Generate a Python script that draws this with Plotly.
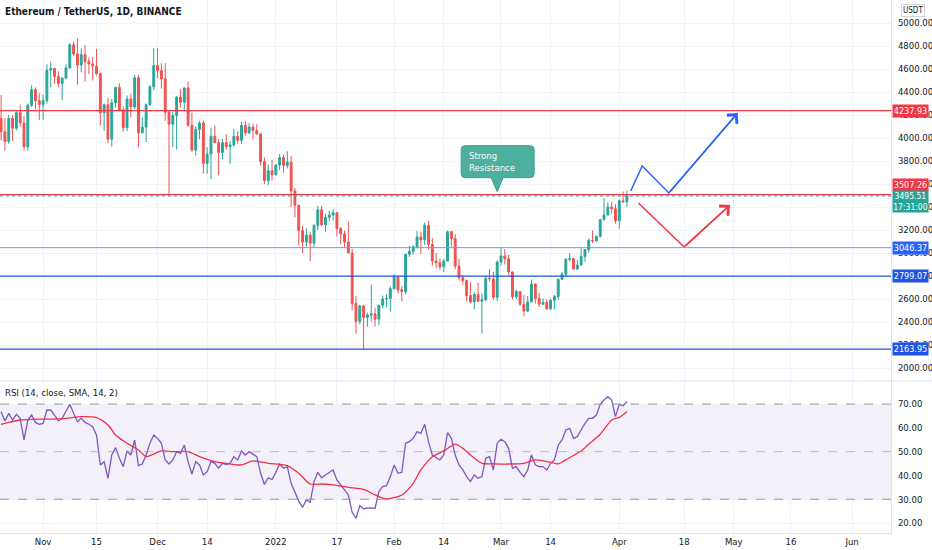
import pandas as pd
import plotly.graph_objects as go

# daily candles, 2021-10-21 .. 2022-04-03
dates = pd.date_range("2021-10-21", periods=165, freq="D")

opens = [4170, 4055, 3970, 4170, 4085, 4220, 4130, 3925, 4285, 4420,
         4325, 4290, 4325, 4590, 4605, 4535, 4475, 4520, 4610, 4810,
         4730, 4635, 4725, 4665, 4645, 4625, 4560, 4220, 4290, 3990,
         4305, 4440, 4245, 4090, 4340, 4270, 4525, 4045, 4095, 4290,
         4445, 4630, 4585, 4515, 4225, 4120, 4195, 4355, 4310, 4435,
         4110, 3895, 4075, 4130, 3780, 3860, 4015, 3960, 3875, 3960,
         3925, 3940, 4015, 3980, 4110, 4045, 4095, 4065, 4035, 3795,
         3630, 3715, 3680, 3765, 3830, 3760, 3790, 3540, 3415, 3195,
         3095, 3155, 3085, 3240, 3375, 3245, 3310, 3330, 3350, 3212,
         3165, 3095, 3000, 2560, 2405, 2540, 2440, 2460, 2470, 2425,
         2545, 2600, 2605, 2690, 2790, 2680, 2665, 2990, 3015, 3055,
         3140, 3115, 3240, 3075, 2930, 2915, 2880, 2930, 3185, 3125,
         2885, 2785, 2760, 2630, 2575, 2640, 2580, 2595, 2780, 2775,
         2615, 2920, 2975, 2950, 2835, 2620, 2665, 2555, 2495, 2575,
         2730, 2605, 2555, 2570, 2515, 2590, 2620, 2770, 2815, 2945,
         2950, 2860, 2895, 2970, 3030, 3110, 3105, 3145, 3290, 3330,
         3400, 3385, 3280, 3455, 3445]

highs = [4375, 4170, 4200, 4200, 4240, 4290, 4190, 4300, 4460, 4440,
         4390, 4380, 4640, 4665, 4610, 4580, 4530, 4640, 4825, 4840,
         4868, 4780, 4810, 4700, 4705, 4775, 4570, 4300, 4345, 4340,
         4440, 4475, 4275, 4370, 4385, 4550, 4550, 4180, 4300, 4460,
         4780, 4780, 4650, 4650, 4240, 4230, 4365, 4425, 4440, 4490,
         4220, 4100, 4150, 4150, 3920, 4090, 4110, 3990, 3990, 4030,
         3975, 4080, 4060, 4140, 4150, 4130, 4125, 4120, 4040, 3830,
         3770, 3810, 3770, 3860, 3855, 3885, 3845, 3565, 3420, 3235,
         3215, 3185, 3250, 3410, 3410, 3340, 3365, 3380, 3360, 3225,
         3195, 3275, 3035, 2625, 2550, 2550, 2480, 2725, 2520, 2550,
         2630, 2640, 2710, 2815, 2805, 2710, 2990, 3060, 3065, 3190,
         3185, 3265, 3280, 3130, 3000, 2950, 2950, 3195, 3190, 3165,
         2950, 2810, 2770, 2745, 2660, 2740, 2650, 2800, 2860, 2835,
         2935, 3050, 3035, 2985, 2840, 2680, 2665, 2635, 2625, 2770,
         2735, 2655, 2605, 2595, 2600, 2635, 2780, 2835, 2955, 3000,
         2960, 2940, 3040, 3030, 3125, 3195, 3150, 3295, 3480, 3440,
         3445, 3425, 3465, 3535, 3545]

lows = [3980, 3890, 3950, 3975, 4065, 4100, 3890, 3890, 4270, 4250,
        4155, 4160, 4300, 4440, 4470, 4440, 4330, 4515, 4600, 4710,
        4465, 4570, 4490, 4555, 4500, 4545, 4110, 4060, 3955, 3925,
        4265, 4235, 4055, 4060, 4180, 4250, 3920, 4040, 3965, 4280,
        4415, 4520, 4430, 4150, 3500, 3920, 3900, 4265, 4230, 4100,
        3880, 3850, 3990, 3690, 3690, 3640, 3955, 3675, 3815, 3900,
        3775, 3925, 3950, 3950, 4020, 4035, 3990, 4030, 3760, 3600,
        3590, 3630, 3675, 3720, 3700, 3735, 3400, 3310, 3065, 3000,
        3055, 2930, 3050, 3200, 3235, 3185, 3280, 3285, 3145, 3075,
        3050, 3000, 2500, 2300, 2380, 2160, 2360, 2405, 2360, 2370,
        2520, 2530, 2490, 2680, 2650, 2580, 2640, 2965, 2985, 3040,
        2990, 3070, 3030, 2890, 2870, 2855, 2835, 2930, 3055, 2860,
        2760, 2725, 2580, 2560, 2510, 2580, 2300, 2580, 2755, 2590,
        2580, 2890, 2900, 2805, 2595, 2600, 2540, 2450, 2485, 2575,
        2560, 2530, 2550, 2505, 2505, 2510, 2590, 2770, 2790, 2925,
        2860, 2855, 2895, 2925, 3005, 3085, 3100, 3135, 3285, 3330,
        3345, 3255, 3210, 3440, 3400]

closes = [4055, 3970, 4170, 4085, 4220, 4130, 3925, 4285, 4420, 4325,
          4290, 4325, 4590, 4605, 4535, 4475, 4520, 4610, 4810, 4730,
          4635, 4725, 4665, 4645, 4625, 4560, 4220, 4290, 3990, 4305,
          4440, 4245, 4090, 4340, 4270, 4525, 4045, 4095, 4290, 4445,
          4630, 4585, 4515, 4225, 4120, 4195, 4355, 4310, 4435, 4110,
          3895, 4075, 4130, 3780, 3860, 4015, 3960, 3875, 3960, 3925,
          3940, 4015, 3980, 4110, 4045, 4095, 4065, 4035, 3795, 3630,
          3715, 3680, 3765, 3830, 3760, 3790, 3540, 3415, 3195, 3095,
          3155, 3085, 3240, 3375, 3245, 3310, 3330, 3350, 3212, 3165,
          3095, 3000, 2560, 2405, 2540, 2440, 2460, 2470, 2425, 2545,
          2600, 2605, 2690, 2790, 2680, 2665, 2990, 3015, 3055, 3140,
          3115, 3240, 3075, 2930, 2915, 2880, 2930, 3185, 3125, 2885,
          2785, 2760, 2630, 2575, 2640, 2580, 2595, 2780, 2775, 2615,
          2920, 2975, 2950, 2835, 2620, 2665, 2555, 2495, 2575, 2730,
          2605, 2555, 2570, 2515, 2590, 2620, 2770, 2815, 2945, 2950,
          2860, 2895, 2970, 3030, 3110, 3105, 3145, 3290, 3330, 3400,
          3385, 3280, 3455, 3445, 3495.51]

rsi = [66.8, 62.9, 66.1, 63.3, 65.7, 64.0, 54.9, 63.3, 65.4, 62.3,
       61.5, 61.9, 67.5, 67.5, 65.4, 62.9, 64.0, 66.8, 69.9, 66.1,
       62.6, 64.0, 62.3, 61.5, 60.5, 57.0, 44.4, 45.8, 38.8, 48.6,
       51.7, 47.2, 43.7, 50.3, 48.6, 54.9, 44.1, 44.8, 48.6, 53.5,
       57.0, 55.6, 53.5, 46.5, 44.8, 46.5, 50.0, 49.3, 52.8, 45.8,
       40.6, 45.8, 44.4, 40.2, 41.6, 45.8, 45.1, 43.0, 45.1, 44.6,
       45.1, 47.9, 46.5, 50.3, 48.6, 50.0, 48.9, 47.9, 40.9, 36.2,
       39.0, 38.3, 41.3, 44.8, 43.0, 43.7, 36.7, 33.2, 29.2, 26.6,
       29.7, 28.7, 37.4, 41.3, 39.0, 40.2, 41.3, 42.3, 38.1, 36.0,
       33.9, 31.8, 24.5, 22.0, 27.3, 25.9, 26.4, 26.4, 26.2, 33.2,
       35.3, 35.7, 39.5, 44.4, 40.9, 41.3, 53.5, 54.2, 55.6, 58.4,
       57.7, 61.5, 54.2, 48.6, 47.5, 46.5, 48.6, 58.0, 55.6, 48.6,
       44.4, 42.3, 39.5, 37.4, 40.2, 38.8, 39.5, 47.2, 47.9, 42.3,
       53.5, 55.2, 54.2, 51.4, 43.0, 43.7, 41.3, 39.5, 42.3, 48.6,
       44.4, 43.7, 43.7, 42.3, 45.1, 46.5, 52.8, 54.9, 59.1, 59.8,
       55.6, 56.3, 59.1, 61.9, 64.0, 64.0, 65.4, 69.9, 71.7, 73.1,
       71.7, 64.7, 69.9, 69.3, 71.0]

# RSI-based SMA, read at a coarser step
ma_dates = ["2021-10-21", "2021-10-23", "2021-10-26", "2021-10-29", "2021-11-03",
            "2021-11-07", "2021-11-11", "2021-11-15", "2021-11-18", "2021-11-20",
            "2021-11-23", "2021-11-26", "2021-11-28", "2021-12-02", "2021-12-05",
            "2021-12-09", "2021-12-12", "2021-12-16", "2021-12-19", "2021-12-23",
            "2021-12-26", "2021-12-30", "2022-01-02", "2022-01-04", "2022-01-07",
            "2022-01-10", "2022-01-13", "2022-01-16", "2022-01-20", "2022-01-24",
            "2022-01-27", "2022-01-30", "2022-02-03", "2022-02-06", "2022-02-08",
            "2022-02-11", "2022-02-14", "2022-02-17", "2022-02-19", "2022-02-21",
            "2022-02-24", "2022-02-27", "2022-03-03", "2022-03-07", "2022-03-10",
            "2022-03-14", "2022-03-16", "2022-03-19", "2022-03-22", "2022-03-24",
            "2022-03-27", "2022-03-30", "2022-04-01", "2022-04-03"]
ma_vals = [61.5, 62.3, 63.3, 63.6, 63.7, 64.0, 64.7, 64.3, 61.2, 57.0,
           53.5, 50.7, 47.9, 50.3, 50.0, 50.0, 47.9, 45.8, 45.1, 44.4,
           46.1, 45.1, 44.6, 44.1, 40.9, 36.4, 36.4, 36.0, 35.0, 34.1,
           31.8, 30.1, 31.8, 36.7, 42.3, 47.9, 50.3, 53.2, 51.4, 48.6,
           45.1, 44.9, 44.8, 45.1, 46.5, 45.5, 44.9, 47.5, 50.3, 53.1,
           57.3, 63.3, 64.4, 66.8]

levels = [4237.93, 3507.26, 3046.37, 2799.07, 2163.95]
last_price = 3495.51
countdown = "17:31:00"

# drawn projection paths
up_path_x = ["2022-04-04", "2022-04-07", "2022-04-14", "2022-05-02"]
up_path_y = [3539, 3757, 3522, 4217]
down_path_x = ["2022-04-06", "2022-04-18", "2022-04-30"]
down_path_y = [3435, 3052, 3417]
callout_date = "2022-02-28"

tick_dates = ["2021-11-01", "2021-11-15", "2021-12-01", "2021-12-14", "2022-01-01",
              "2022-01-17", "2022-02-01", "2022-02-14", "2022-03-01", "2022-03-14",
              "2022-04-01", "2022-04-18", "2022-05-01", "2022-05-16", "2022-06-01"]
tick_text = ["Nov", "15", "Dec", "14", "2022", "17", "Feb", "14", "Mar", "14",
             "Apr", "18", "May", "16", "Jun"]
price_ticks = list(range(2000, 5001, 200))
rsi_ticks = [20, 30, 40, 50, 60, 70]

UP = "#26a69a"
DOWN = "#ef5350"
RED = "#f23645"
BLUE = "#2962ff"
GRID = "#f0f3fa"
FONT = "Liberation Sans Narrow, DejaVu Sans Condensed, Liberation Sans, sans-serif"
level_colors = {4237.93: RED, 3507.26: RED, 3046.37: "#6a97f7",
                2799.07: "#1e53e5", 2163.95: "#1e53e5"}
level_widths = {4237.93: 1.4, 3507.26: 1.4, 3046.37: 1, 2799.07: 1.4, 2163.95: 1.4}
SPLIT = 152 / 533

fig = go.Figure()

fig.add_trace(go.Candlestick(
    x=dates, open=opens, high=highs, low=lows, close=closes,
    increasing=dict(line=dict(color=UP, width=1), fillcolor=UP),
    decreasing=dict(line=dict(color=DOWN, width=1), fillcolor=DOWN),
    whiskerwidth=0, hoverinfo="skip", showlegend=False,
    xaxis="x", yaxis="y"))

fig.add_trace(go.Scatter(x=up_path_x, y=up_path_y, mode="lines",
                         line=dict(color=BLUE, width=1.5),
                         hoverinfo="skip", showlegend=False, xaxis="x", yaxis="y"))
fig.add_trace(go.Scatter(x=down_path_x, y=down_path_y, mode="lines",
                         line=dict(color=RED, width=1.5),
                         hoverinfo="skip", showlegend=False, xaxis="x", yaxis="y"))

fig.add_trace(go.Scatter(x=dates, y=rsi, mode="lines",
                         line=dict(color="#7e57c2", width=1.3),
                         hoverinfo="skip", showlegend=False, xaxis="x2", yaxis="y2"))
fig.add_trace(go.Scatter(x=ma_dates, y=ma_vals, mode="lines",
                         line=dict(color="#f0304a", width=1.3, shape="spline", smoothing=0.7),
                         hoverinfo="skip", showlegend=False, xaxis="x2", yaxis="y2"))

shapes = []
for lv in levels:
    shapes.append(dict(type="line", xref="paper", x0=0, x1=1, yref="y", y0=lv, y1=lv,
                       line=dict(color=level_colors[lv], width=level_widths[lv])))
shapes.append(dict(type="line", xref="paper", x0=0, x1=1, yref="y",
                   y0=last_price, y1=last_price,
                   line=dict(color=UP, width=1, dash="dot")))
# RSI band and guide lines
shapes.append(dict(type="rect", xref="paper", x0=0, x1=1, yref="y2", y0=30, y1=70,
                   fillcolor="rgba(126,87,194,0.09)", line=dict(width=0), layer="below"))
for g, op in [(70, 1), (50, 0.6), (30, 1)]:
    shapes.append(dict(type="line", xref="paper", x0=0, x1=1, yref="y2", y0=g, y1=g,
                       opacity=op, line=dict(color="#9598a1", width=1, dash="dash")))
# pane separator
shapes.append(dict(type="line", xref="paper", x0=0, x1=1.05, yref="paper",
                   y0=SPLIT, y1=SPLIT, line=dict(color="#e0e3eb", width=1)))
# callout box with pointer, sized in pixels
shapes.append(dict(type="path", xref="x", yref="y", xsizemode="pixel", ysizemode="pixel",
                   xanchor=callout_date, yanchor=levels[1],
                   path="M0,3 L-6,17 L-32,17 Q-36,17 -36,21 L-36,45 Q-36,49 -32,49 "
                        "L33,49 Q37,49 37,45 L37,21 Q37,17 33,17 L6,17 Z",
                   fillcolor="#4daf9e", line=dict(color="#3f9d8c", width=1)))

annotations = [
    dict(text="Ethereum / TetherUS, 1D, BINANCE", xref="paper", yref="paper",
         x=0, y=1, xanchor="left", yanchor="top", xshift=3, yshift=-4, showarrow=False,
         font=dict(family=FONT, size=10, color="#131722", weight="bold")),
    dict(text="RSI (14, close, SMA, 14, 2)", xref="paper", yref="paper",
         x=0, y=SPLIT, xanchor="left", yanchor="top", xshift=3, yshift=-4, showarrow=False,
         font=dict(family=FONT, size=9.5, color="#131722")),
    dict(text="USDT", xref="paper", yref="paper", x=1, y=1, xanchor="left", yanchor="top",
         xshift=10, yshift=-4, showarrow=False, borderpad=1, bordercolor="#d1d4dc",
         borderwidth=1, font=dict(family=FONT, size=8, color="#131722")),
    dict(text="Strong<br>Resistance", xref="x", yref="y", x=callout_date, y=levels[1],
         xanchor="left", yanchor="middle", xshift=-30, yshift=33, align="left",
         showarrow=False, font=dict(family=FONT, size=9.5, color="white")),
    dict(text="", xref="x", yref="y", axref="x", ayref="y",
         x=up_path_x[-1], y=up_path_y[-1], ax=up_path_x[-2], ay=up_path_y[-2],
         showarrow=True, arrowhead=4, arrowsize=1.7, arrowwidth=1.5, arrowcolor=BLUE),
    dict(text="", xref="x", yref="y", axref="x", ayref="y",
         x=down_path_x[-1], y=down_path_y[-1], ax=down_path_x[-2], ay=down_path_y[-2],
         showarrow=True, arrowhead=4, arrowsize=1.7, arrowwidth=1.5, arrowcolor=RED),
]
shift = {3507.26: 10}
for lv in levels:
    annotations.append(dict(text=f"{lv:.2f}", xref="paper", yref="y", x=1, y=lv,
                            xanchor="left", yanchor="middle", xshift=1, yshift=shift.get(lv, 0),
                            showarrow=False, bgcolor=level_colors[lv] if lv != 3046.37 else BLUE,
                            width=33, borderpad=1,
                            font=dict(family=FONT, size=9, color="white")))
annotations.append(dict(text=f"{last_price:.2f}<br>{countdown}", xref="paper", yref="y",
                        x=1, y=last_price, xanchor="left", yanchor="middle", xshift=1,
                        yshift=-5, showarrow=False, bgcolor=UP, width=35, borderpad=0,
                        font=dict(family=FONT, size=8.5, color="white")))

xcommon = dict(type="date", range=["2021-10-20 17:00", "2022-06-11 05:00"],
               tickvals=tick_dates, ticktext=tick_text, showgrid=True, gridcolor=GRID,
               zeroline=False, rangeslider=dict(visible=False))

fig.update_layout(
    width=932, height=550,
    margin=dict(l=0, r=41, t=0, b=17),
    paper_bgcolor="white", plot_bgcolor="white",
    showlegend=False, hovermode=False,
    font=dict(family=FONT, size=9, color="#131722"),
    xaxis=dict(**xcommon, anchor="y", showticklabels=False),
    xaxis2=dict(**xcommon, anchor="y2", matches="x", showline=True, linecolor="#e0e3eb",
                tickfont=dict(family=FONT, size=9.5, color="#131722")),
    yaxis=dict(domain=[SPLIT, 1], range=[1887, 5200], side="right", tickvals=price_ticks,
               tickformat=".2f", showgrid=True, gridcolor=GRID, zeroline=False,
               showline=True, linecolor="#e0e3eb", ticklabelstandoff=4,
               tickfont=dict(family=FONT, size=9.5, color="#131722")),
    yaxis2=dict(domain=[0, SPLIT], range=[15.8, 79.7], side="right", tickvals=rsi_ticks,
                tickformat=".2f", showgrid=True, gridcolor=GRID, zeroline=False,
                showline=True, linecolor="#e0e3eb", ticklabelstandoff=4,
                tickfont=dict(family=FONT, size=9.5, color="#131722")),
    shapes=shapes, annotations=annotations,
)

# the page body has a default margin that would push the fixed-size plot off the window
fig.write_html("out.html", config={"displayModeBar": False},
               post_script="document.body.style.margin='0';")
